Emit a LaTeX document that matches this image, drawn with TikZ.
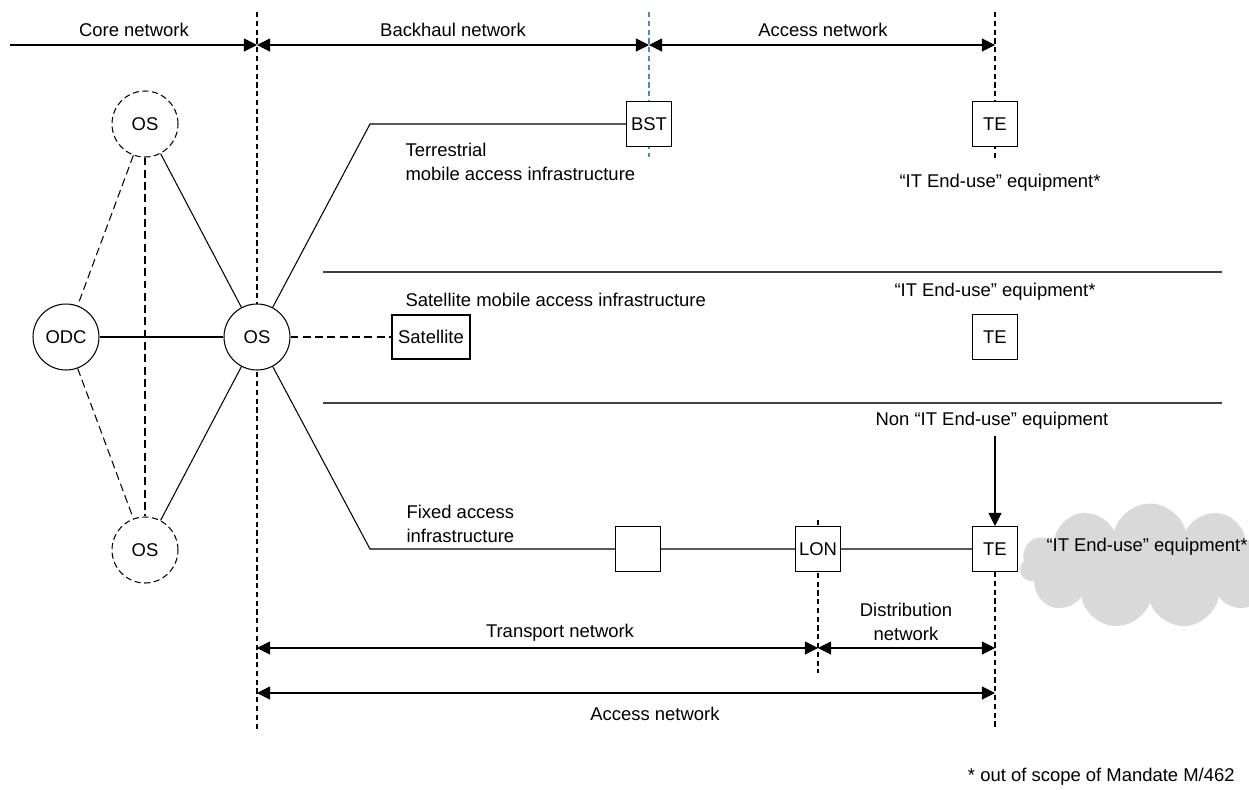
\documentclass[tikz,border=0pt]{standalone}
\usepackage{fontspec}
\setmainfont{Liberation Sans}
\usetikzlibrary{arrows.meta,shapes.symbols}
\definecolor{bstblue}{RGB}{70,140,190}
\definecolor{cloudgray}{RGB}{217,217,217}
\definecolor{rulegray}{RGB}{64,64,64}
\begin{document}
\begin{tikzpicture}[x=0.02cm, y=-0.02cm, line width=0.6pt,
    every node/.style={font=\fontsize{10.5}{13.5}\selectfont},
    site/.style={draw, circle, fill=white, minimum size=1.32cm, inner sep=0pt},
    dsite/.style={site, dash pattern=on 3.5pt off 2pt},
    box/.style={draw, fill=white, minimum size=0.9cm, inner sep=0pt},
    bound/.style={dash pattern=on 3pt off 2pt},
    dlink/.style={dash pattern=on 4.5pt off 2.5pt},
    lefttext/.style={anchor=west, align=left, inner sep=0pt},
    tip/.tip={Triangle[length=7.5pt,width=7.5pt]},
    span/.style={tip-tip}]
    \useasboundingbox (0,0) rectangle (1249,789);

    % boundaries between the network parts
    \draw[bound] (257,12) -- (257,730);
    \draw[bound, bstblue] (649,12) -- (649,157);
    \draw[bound] (995,12) -- (995,160);
    \draw[bound] (995,572) -- (995,730);
    \draw[bound] (818,520) -- (818,673);

    % top spans
    \coordinate (t0) at (10,45);
    \coordinate (t1) at (257,45);
    \coordinate (t2) at (649,45);
    \coordinate (t3) at (995,45);
    \draw[-tip] (t0) -- (t1);
    \draw[span] (t1) -- (t2);
    \draw[span] (t2) -- (t3);
    \node (corelbl) at (134,30) {Core network};
    \node (backlbl) at (453,30) {Backhaul network};
    \node (acclbl) at (823,30) {Access network};

    % separators
    \draw[rulegray, line width=0.9pt] (323,272) -- (1222,272);
    \draw[rulegray, line width=0.9pt] (323,403) -- (1222,403);

    % core network
    \node[dsite] (ostop) at (145,124) {OS};
    \node[site] (odc) at (66,337) {ODC};
    \node[site] (os) at (257,337) {OS};
    \node[dsite] (osbot) at (145,550) {OS};
    \draw[dlink] (ostop) -- (odc);
    \draw[dlink] (ostop) -- (osbot);
    \draw[dlink] (odc) -- (osbot);
    \draw (ostop) -- (os);
    \draw (odc) -- (os);
    \draw (osbot) -- (os);

    % terrestrial mobile access
    \coordinate (tbend) at (370,124);
    \node[box] (bst) at (649,124) {BST};
    \node[box] (te1) at (995,124) {TE};
    \draw (os) -- (tbend) -- (bst);
    \node[lefttext] (terrlbl) at (405,162) {Terrestrial\\mobile access infrastructure};
    \node (it1) at (1000,183) {“IT End-use” equipment*};

    % satellite mobile access
    \node[draw, fill=white, minimum width=1.56cm, minimum height=0.88cm, inner sep=0pt] (sat) at (431,337) {Satellite};
    \node[box] (te2) at (995,337) {TE};
    \draw[dlink] (os) -- (sat);
    \node[lefttext] (satlbl) at (405,300) {Satellite mobile access infrastructure};
    \node (it2) at (995,292) {“IT End-use” equipment*};

    % fixed access
    \coordinate (fbend) at (370,549);
    \node[box] (relay) at (638,549) {};
    \node[box] (lon) at (818,549) {LON};
    \node[box] (te3) at (995,549) {TE};
    \draw (os) -- (fbend) -- (relay) -- (lon) -- (te3);
    \node[lefttext] (fixlbl) at (406,524) {Fixed access\\infrastructure};
    \node (nonit) at (992,421) {Non “IT End-use” equipment};
    \draw[-tip] (nonit.south -| te3) -- (te3);
    \node[cloud, cloud puffs=11, aspect=2, fill=cloudgray, minimum width=5.2cm, minimum height=2.5cm] (cloud) at (1150,566) {};
    \node (cloudlbl) at (1147,547) {“IT End-use” equipment*};

    % bottom spans
    \coordinate (b0) at (257,648);
    \coordinate (b1) at (818,648);
    \coordinate (b2) at (995,648);
    \coordinate (a0) at (257,693);
    \coordinate (a1) at (995,693);
    \draw[span] (b0) -- (b1);
    \draw[span] (b1) -- (b2);
    \draw[span] (a0) -- (a1);
    \node (translbl) at (560,633) {Transport network};
    \node[align=center] (distlbl) at (906,622) {Distribution\\network};
    \node (acc2lbl) at (655,714) {Access network};

    \node[anchor=east] (note) at (1241,777) {* out of scope of Mandate M/462};
\end{tikzpicture}
\end{document}
